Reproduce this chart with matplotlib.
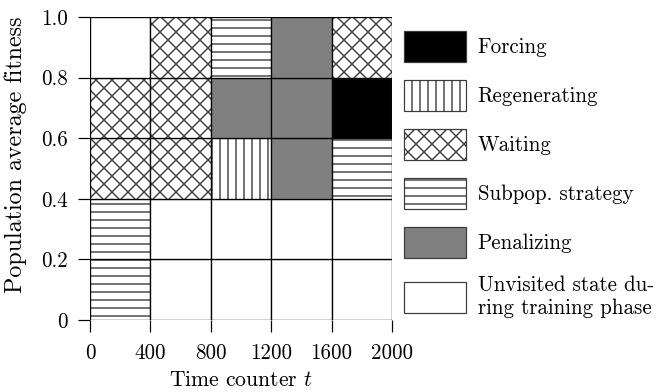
import matplotlib
matplotlib.use("Agg")
import matplotlib.pyplot as plt
from matplotlib.patches import Patch

plt.rcParams["font.family"] = ["cmr10", "DejaVu Serif"]
plt.rcParams["mathtext.fontset"] = "cm"
plt.rcParams["axes.unicode_minus"] = False
plt.rcParams["hatch.linewidth"] = 0.7

# Time bins (left edges) and fitness bins (lower edges)
time_edges = [0, 400, 800, 1200, 1600]
time_width = 400
fitness_edges = [0.0, 0.2, 0.4, 0.6, 0.8]
fitness_height = 0.2

# State selected in each (fitness, time) cell, rows from low to high fitness
state_row_00 = ["Subpop", "Unvisited", "Unvisited", "Unvisited", "Unvisited"]
state_row_02 = ["Subpop", "Unvisited", "Unvisited", "Unvisited", "Unvisited"]
state_row_04 = ["Waiting", "Waiting", "Regenerating", "Penalizing", "Subpop"]
state_row_06 = ["Waiting", "Waiting", "Penalizing", "Penalizing", "Forcing"]
state_row_08 = ["Unvisited", "Waiting", "Subpop", "Penalizing", "Waiting"]
state_rows = [state_row_00, state_row_02, state_row_04, state_row_06, state_row_08]

legend_order = ["Forcing", "Regenerating", "Waiting", "Subpop", "Penalizing", "Unvisited"]
legend_labels = ["Forcing", "Regenerating", "Waiting", "Subpop. strategy",
                 "Penalizing", "Unvisited state du-\nring training phase"]

x_ticks = [0, 400, 800, 1200, 1600, 2000]
x_ticklabels = ["0", "400", "800", "1200", "1600", "2000"]
y_ticks = [0.0, 0.2, 0.4, 0.6, 0.8, 1.0]
y_ticklabels = ["0", "0.2", "0.4", "0.6", "0.8", "1.0"]

styles = {
    "Forcing": dict(facecolor="black", hatch=None),
    "Regenerating": dict(facecolor="white", hatch="|||"),
    "Waiting": dict(facecolor="white", hatch="xxx"),
    "Subpop": dict(facecolor="white", hatch="---"),
    "Penalizing": dict(facecolor="#808080", hatch=None),
    "Unvisited": dict(facecolor="white", hatch=None),
}
hatch_edge = "#3a3a3a"
FS = 10.5

W, H, DPI = 656, 392, 144
fig = plt.figure(figsize=(W / DPI, H / DPI), dpi=DPI)
ax = fig.add_axes([90 / W, (H - 320) / H, (392 - 90) / W, (320 - 17) / H])

for fit, row in zip(fitness_edges, state_rows):
    for t, state in zip(time_edges, row):
        st = styles[state]
        ax.bar(t, fitness_height, width=time_width, bottom=fit, align="edge",
               facecolor=st["facecolor"], hatch=st["hatch"],
               edgecolor=hatch_edge, linewidth=0.6)

ax.set_xlim(0, 2000)
ax.set_ylim(0, 1.0)
ax.set_xticks(x_ticks)
ax.set_xticklabels(x_ticklabels)
ax.set_yticks(y_ticks)
ax.set_yticklabels(y_ticklabels)
ax.tick_params(direction="out", length=6, width=0.6, labelsize=FS)
ax.tick_params(axis="x", pad=5.5)
ax.tick_params(axis="y", pad=5)
ax.grid(True, color="black", linewidth=0.6)
ax.set_axisbelow(False)
for s in ax.spines.values():
    s.set_visible(False)

ax.set_xlabel("Time counter $t$", fontsize=10.8, labelpad=4)
ax.set_ylabel("Population average fitness", fontsize=12)
ax.yaxis.set_label_coords(-0.21, 0.545)

handles = [Patch(facecolor=styles[k]["facecolor"], hatch=styles[k]["hatch"],
                 edgecolor=hatch_edge, linewidth=0.6) for k in legend_order]
fig.legend(handles, legend_labels, loc="upper left",
           bbox_to_anchor=(404 / W, 1 - 31 / H), bbox_transform=fig.transFigure,
           frameon=False, borderpad=0, borderaxespad=0, fontsize=FS,
           handlelength=2.95, handleheight=1.9, handletextpad=0.55,
           labelspacing=0.85)

fig.savefig("out.png", dpi=DPI)
